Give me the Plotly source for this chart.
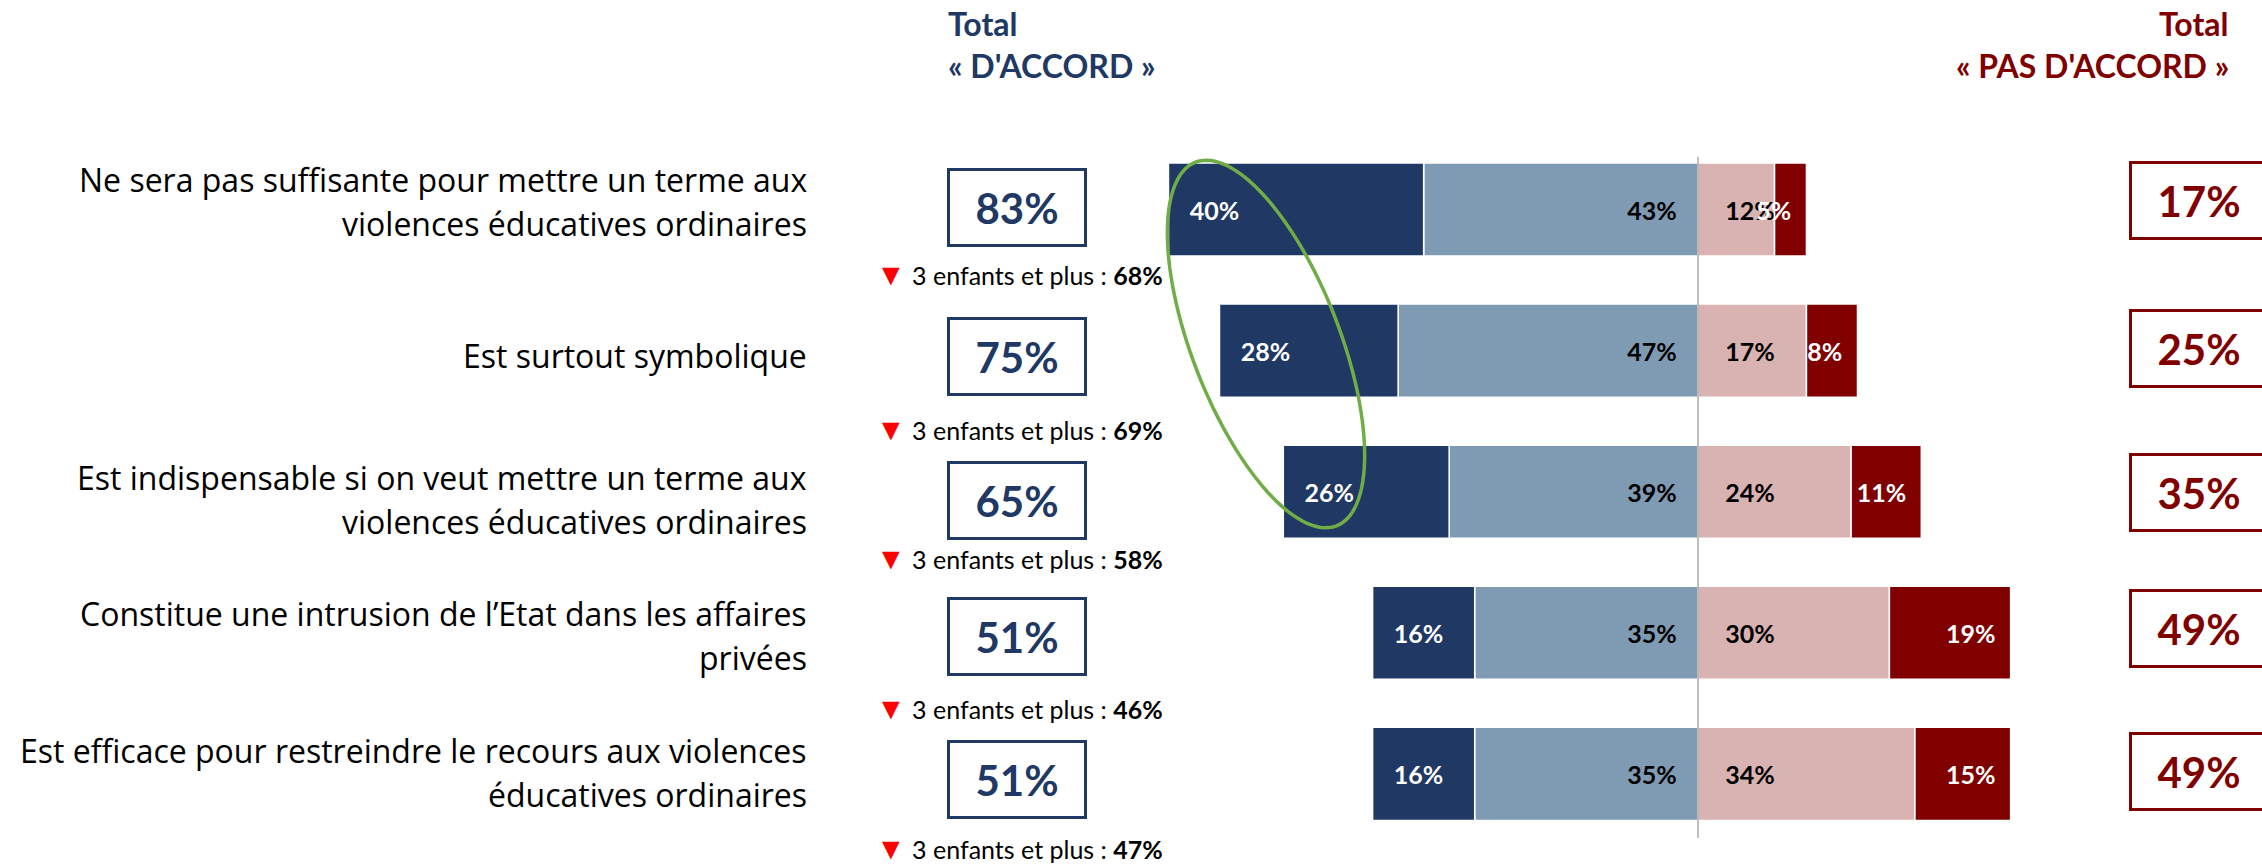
import numpy as np
import plotly.graph_objects as go

W, H = 2262, 865

# ---------------- data ----------------
categories = [
    "Ne sera pas suffisante pour mettre un terme aux<br>violences éducatives ordinaires",
    "Est surtout symbolique",
    "Est indispensable si on veut mettre un terme aux<br>violences éducatives ordinaires",
    "Constitue une intrusion de l’Etat dans les affaires<br>privées",
    "Est efficace pour restreindre le recours aux violences<br>éducatives ordinaires",
]
tout_a_fait_d_accord = [40, 28, 26, 16, 16]
plutot_d_accord = [43, 47, 39, 35, 35]
plutot_pas_d_accord = [12, 17, 24, 30, 34]
pas_du_tout_d_accord = [5, 8, 11, 19, 15]
total_d_accord = [83, 75, 65, 51, 51]
total_pas_d_accord = [17, 25, 35, 49, 49]
sous_groupe_label = "3 enfants et plus"
sous_groupe_values = [68, 69, 58, 46, 47]
header_left = ["Total", "« D'ACCORD »"]
header_right = ["Total", "« PAS D'ACCORD »"]

# ---------------- style ----------------
NAVY = "#203864"
LIGHT = "#7F9BB4"
PINK = "#D9B2B2"
DRED = "#800000"
FONT = "Lato"
LABEL_FONT = "Open Sans"
NB = "\u00a0"

# layout offsets (pixels, downward) relative to each bar centre
label_dy = [-8, 4.5, 7.5, 2.5, -1.5]
box_dy = [-2, 6, 9, 4, 5.5]
rbox_dy = [-9.5, -2, 0.5, -4, -2]
note_dy = [63.5, 77.5, 65, 74, 73]

CENTER_PX = 1698.0
PX_PER_PCT = 6.38
ROW0_PX = 209.5
ROW_STEP = 141.1


def px(x):
    return x / W


def py(y):
    return 1 - y / H


fig = go.Figure()


def add_bar(vals, sign, color, tcolor, anchor, name, pre, post):
    fig.add_trace(go.Bar(
        y=categories,
        x=[sign * v for v in vals],
        orientation="h",
        name=name,
        marker=dict(color=color, line=dict(color="white", width=1.5)),
        width=0.66,
        text=[f"{pre}{v}%{post}" for v in vals],
        textposition="inside",
        insidetextanchor=anchor,
        textangle=0,
        textfont=dict(family=FONT, size=25, color=tcolor, weight="bold"),
        hoverinfo="skip",
    ))


add_bar(plutot_d_accord, -1, LIGHT, "black", "start", "Plutôt d'accord", "", NB * 3)
add_bar(tout_a_fait_d_accord, -1, NAVY, "white", "end", "Tout à fait d'accord", NB * 3, "")
add_bar(plutot_pas_d_accord, 1, PINK, "black", "start", "Plutôt pas d'accord", NB * 4, "")
add_bar(pas_du_tout_d_accord, 1, DRED, "white", "end", "Pas du tout d'accord", "", NB * 2)

x0 = -CENTER_PX / PX_PER_PCT
x1 = (W - CENTER_PX) / PX_PER_PCT
y_top = -ROW0_PX / ROW_STEP
y_bot = y_top + H / ROW_STEP

annotations = []
for i, cat in enumerate(categories):
    lines = cat.split("<br>")
    n = len(lines)
    for j, line in enumerate(lines):
        off = (j - (n - 1) / 2) * 44 + label_dy[i]
        annotations.append(dict(
            text=line, xref="paper", x=px(809), xanchor="right",
            yref="y", y=cat, yanchor="middle", yshift=-off,
            showarrow=False, font=dict(family=LABEL_FONT, size=32, color="black")))
    # left total box
    annotations.append(dict(
        text=f"<b>{total_d_accord[i]}%</b>", xref="paper", x=px(1016.5), xanchor="center",
        yref="y", y=cat, yanchor="middle", yshift=-box_dy[i],
        showarrow=False, width=134, height=73, borderpad=0,
        bordercolor=NAVY, borderwidth=3, bgcolor="white",
        font=dict(family=FONT, size=42, color=NAVY)))
    # right total box
    annotations.append(dict(
        text=f"<b>{total_pas_d_accord[i]}%</b>", xref="paper", x=px(2198.5), xanchor="center",
        yref="y", y=cat, yanchor="middle", yshift=-rbox_dy[i],
        showarrow=False, width=134, height=73, borderpad=0,
        bordercolor=DRED, borderwidth=3, bgcolor="white",
        font=dict(family=FONT, size=42, color=DRED)))
    # sub-group note
    annotations.append(dict(
        text=(f'<span style="color:#FF0000;font-size:30px">▼</span> '
              f'{sous_groupe_label} : <b>{sous_groupe_values[i]}%</b>'),
        xref="paper", x=px(874), xanchor="left",
        yref="y", y=cat, yanchor="middle", yshift=-note_dy[i],
        showarrow=False, font=dict(family=FONT, size=25, color="black")))

# headers
for t, yy in zip(header_left, [23, 66]):
    annotations.append(dict(text=f"<b>{t}</b>", xref="paper", yref="paper",
                            x=px(946), y=py(yy), xanchor="left", yanchor="middle",
                            showarrow=False, font=dict(family=FONT, size=32, color=NAVY)))
for t, yy in zip(header_right, [23, 66]):
    annotations.append(dict(text=f"<b>{t}</b>", xref="paper", yref="paper",
                            x=px(2231), y=py(yy), xanchor="right", yanchor="middle",
                            showarrow=False, font=dict(family=FONT, size=32, color=DRED)))

# green highlight ellipse (decoration)
t = np.linspace(0, 2 * np.pi, 121)
cx, cy, a, b = 1266, 344, 195, 74
ang = np.deg2rad(68.8)
ex = cx + a * np.cos(t) * np.cos(ang) - b * np.sin(t) * np.sin(ang)
ey = cy + a * np.cos(t) * np.sin(ang) + b * np.sin(t) * np.cos(ang)
path = "M " + " L ".join(f"{px(u):.5f},{py(v):.5f}" for u, v in zip(ex, ey)) + " Z"

shapes = [
    dict(type="line", xref="x", yref="paper", x0=0, x1=0, y0=py(838), y1=py(157),
         line=dict(color="#7F7F7F", width=1), layer="above"),
    dict(type="path", xref="paper", yref="paper", path=path,
         line=dict(color="#70AD47", width=3.5), layer="above"),
]

fig.update_layout(
    width=W, height=H,
    margin=dict(l=0, r=0, t=0, b=0),
    paper_bgcolor="white", plot_bgcolor="white",
    barmode="relative",
    showlegend=False,
    uniformtext=dict(minsize=25, mode="show"),
    xaxis=dict(range=[x0, x1], domain=[0, 1], visible=False, fixedrange=True),
    yaxis=dict(range=[y_bot, y_top], domain=[0, 1], visible=False,
               categoryorder="array", categoryarray=categories, fixedrange=True),
    annotations=annotations,
    shapes=shapes,
    font=dict(family=FONT),
)

fig.write_html("out.html",
               config={"displayModeBar": False},
               post_script="document.body.style.margin='0';document.body.style.overflow='hidden';")
